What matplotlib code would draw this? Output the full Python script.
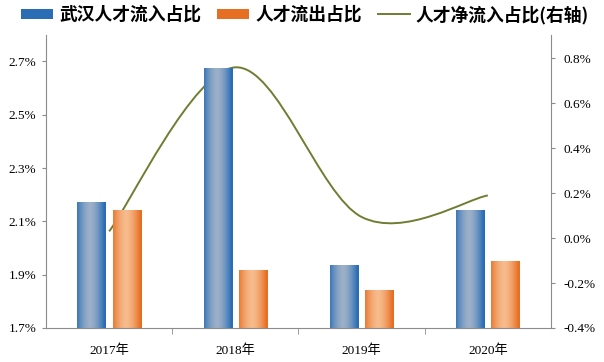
import numpy as np
import matplotlib
matplotlib.use("Agg")
import matplotlib.pyplot as plt
from matplotlib.patches import Patch
from matplotlib.lines import Line2D
from matplotlib.path import Path
from matplotlib.patches import PathPatch
from matplotlib.colors import to_rgb

plt.rcParams['font.family'] = ['Liberation Serif', 'Noto Sans CJK SC', 'DejaVu Sans']

years = ["2017年", "2018年", "2019年", "2020年"]
inflow = [2.174, 2.677, 1.937, 2.142]    # 武汉人才流入占比 (%)
outflow = [2.144, 1.918, 1.843, 1.952]   # 人才流出占比 (%)
net = [0.03, 0.76, 0.094, 0.19]          # 人才净流入占比 (%), right axis

left_ticks = [1.7, 1.9, 2.1, 2.3, 2.5, 2.7]
right_ticks = [-0.4, -0.2, 0.0, 0.2, 0.4, 0.6, 0.8]

blue_dark, blue_light = "#2a6db5", "#9cb0c8"
orange_dark, orange_light = "#e76f24", "#f7bb8c"
line_color = "#6f7d32"
axis_color = "#8c8c8c"

fig = plt.figure(figsize=(6.04, 3.62), dpi=100)
ax1 = fig.add_axes([0.0762, 0.094, 0.836, 0.81])
ax2 = ax1.twinx()
ax1.set_zorder(ax2.get_zorder() + 1)
ax1.patch.set_visible(False)

x = np.arange(len(years))
w = 0.225
ymin, ymax = 1.7, 2.8


def gradient_bars(ax, bars, dark, light):
    d = np.array(to_rgb(dark))
    l = np.array(to_rgb(light))
    t = np.linspace(0, 1, 64)
    m = np.clip(1 - np.abs((t - 0.45) / 0.5) ** 1.6, 0, 1)
    grad = d[None, :] * (1 - m[:, None]) + l[None, :] * m[:, None]
    grad = grad[None, :, :]
    for b in bars:
        bx, bw, bh = b.get_x(), b.get_width(), b.get_height()
        im = ax.imshow(grad, extent=[bx, bx + bw, ymin, bh], aspect='auto',
                       interpolation='bilinear', zorder=2)
        im.set_clip_path(b)
        b.set_facecolor('none')


b1 = ax1.bar(x - 0.14, inflow, w, color=blue_dark, zorder=2)
b2 = ax1.bar(x + 0.14, outflow, w, color=orange_dark, zorder=2)
gradient_bars(ax1, b1, blue_dark, blue_light)
gradient_bars(ax1, b2, orange_dark, orange_light)

ax1.set_xlim(-0.5, len(years) - 0.5)
ax1.set_ylim(ymin, ymax)
ax1.set_yticks(left_ticks)
ax1.set_yticklabels([f"{v:.1f}%" for v in left_ticks])
ax1.set_xticks(x)
ax1.set_xticklabels(years)
ax1.set_xticks(np.arange(0.5, len(years) - 1, 1), minor=True)
ax1.tick_params(axis='x', which='major', length=0, pad=12, labelsize=9.5)
ax1.tick_params(axis='x', which='minor', length=4, color=axis_color, direction='out')
ax1.tick_params(axis='y', length=3, color=axis_color, labelsize=9.5, pad=4)

# smoothed net line (Excel-style cubic bezier through the points)
pts = np.column_stack([x, net]).astype(float)
ext = np.vstack([pts[0], pts, pts[-1]])
verts = [tuple(pts[0])]
codes = [Path.MOVETO]
for i in range(len(pts) - 1):
    p0, p1, p2, p3 = ext[i], ext[i + 1], ext[i + 2], ext[i + 3]
    c1 = p1 + (p2 - p0) / 6
    c2 = p2 - (p3 - p1) / 6
    verts += [tuple(c1), tuple(c2), tuple(p2)]
    codes += [Path.CURVE4] * 3
ax2.add_patch(PathPatch(Path(verts, codes), facecolor='none',
                        edgecolor=line_color, lw=1.4))
ax2.set_ylim(-0.4, 0.905)
ax2.set_yticks(right_ticks)
ax2.set_yticklabels([f"{v:.1f}%" for v in right_ticks])
ax2.tick_params(axis='y', length=3, color=axis_color, labelsize=9.5, pad=6)

for ax in (ax1, ax2):
    ax.spines['top'].set_visible(False)
    for s in ('left', 'right', 'bottom'):
        ax.spines[s].set_color(axis_color)
ax1.spines['right'].set_visible(False)
ax2.spines['left'].set_visible(False)
ax2.spines['bottom'].set_visible(False)

handles = [Patch(facecolor=blue_dark), Patch(facecolor=orange_dark),
           Line2D([], [], color=line_color, lw=1.4)]
labels = ["武汉人才流入占比", "人才流出占比", "人才净流入占比(右轴)"]
fig.legend(handles, labels, loc='upper center', bbox_to_anchor=(0.505, 1.03),
           ncol=3, frameon=False, handlelength=1.8, handleheight=0.5,
           columnspacing=0.9, handletextpad=0.35,
           prop={'family': ['Noto Sans CJK SC'], 'size': 12.8, 'weight': 'bold'})

fig.savefig("out.png", dpi=100)
